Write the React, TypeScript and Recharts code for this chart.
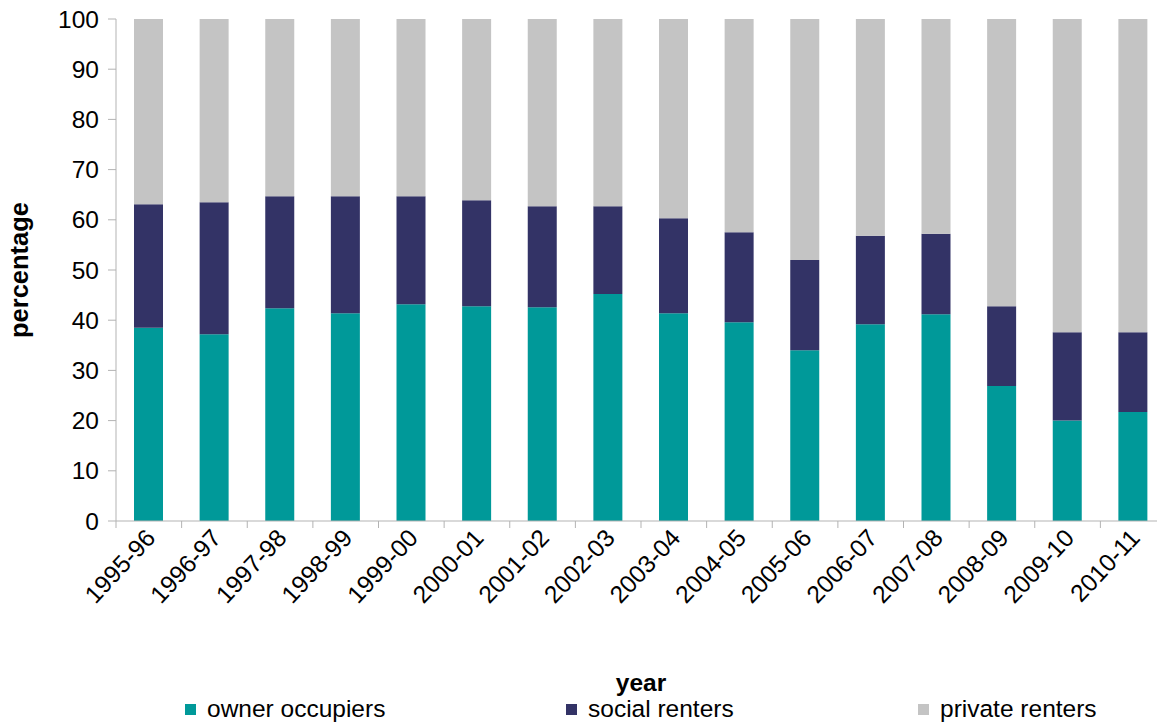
import React from "react";
import { BarChart, Bar, XAxis, YAxis } from "recharts";

// values (percent of households)
const years = [
    "1995-96", "1996-97", "1997-98", "1998-99", "1999-00", "2000-01", "2001-02", "2002-03",
    "2003-04", "2004-05", "2005-06", "2006-07", "2007-08", "2008-09", "2009-10", "2010-11",
];
const ownerOccupiers = [38.5, 37.2, 42.4, 41.4, 43.2, 42.8, 42.6, 45.2, 41.4, 39.6, 34.0, 39.2, 41.2, 26.9, 20.0, 21.7];
const socialRenters = [24.6, 26.3, 22.3, 23.3, 21.5, 21.1, 20.1, 17.5, 18.9, 17.9, 18.0, 17.6, 16.0, 15.9, 17.6, 15.9];
const privateRenters = [36.9, 36.5, 35.3, 35.3, 35.3, 36.1, 37.3, 37.3, 39.7, 42.5, 48.0, 43.2, 42.8, 57.2, 62.4, 62.4];
const yTicks = [0, 10, 20, 30, 40, 50, 60, 70, 80, 90, 100];

const series = [
    { key: "owner", name: "owner occupiers", color: "#009999" },
    { key: "social", name: "social renters", color: "#333366" },
    { key: "private", name: "private renters", color: "#C4C4C4" },
];

const data = years.map((year, i) => ({
    year,
    owner: ownerOccupiers[i],
    social: socialRenters[i],
    private: privateRenters[i],
}));

const W = 1170;
const H = 722;
const LEFT = 116;
const RIGHT = 4;
const TOP = 19;
const PLOT_BOTTOM = 521;
const AXIS_COLOR = "#B3B3B3";
const FONT = "'Liberation Sans', Arial, sans-serif";
const FS = 24.5;
const BAND = (W - LEFT - RIGHT) / years.length;

function YearTick(props: any) {
    const { x, y, payload } = props;
    const edge = x - BAND / 2;
    const ax = x + 8;
    const ay = y + 18;
    return (
        <g>
            <line x1={edge} y1={y} x2={edge} y2={y + 7} stroke={AXIS_COLOR} />
            <text
                x={ax}
                y={ay}
                transform={`rotate(-47, ${ax}, ${ay})`}
                textAnchor="end"
                fontSize={FS}
                fontFamily={FONT}
                fill="#000"
            >
                {payload.value}
            </text>
        </g>
    );
}

function PercentLabel() {
    const cx = 28;
    const cy = (TOP + PLOT_BOTTOM) / 2;
    return (
        <text
            x={cx}
            y={cy}
            transform={`rotate(-90, ${cx}, ${cy})`}
            textAnchor="middle"
            fontSize={25.5}
            fontWeight="bold"
            fontFamily={FONT}
            fill="#000"
        >
            percentage
        </text>
    );
}

export default function App() {
    return (
        <div style={{ position: "absolute", left: 0, top: 0, width: 1157, height: H, overflow: "hidden", background: "#fff" }}>
            <BarChart
                width={W}
                height={H}
                data={data}
                margin={{ top: TOP, right: RIGHT, left: 0, bottom: 0 }}
                barSize={29}
            >
                <XAxis
                    dataKey="year"
                    interval={0}
                    height={H - PLOT_BOTTOM}
                    tickLine={false}
                    tickSize={0}
                    tickMargin={0}
                    axisLine={{ stroke: AXIS_COLOR }}
                    tick={<YearTick />}
                    label={{
                        value: "year",
                        position: "insideBottom",
                        offset: 31,
                        fontSize: FS,
                        fontWeight: "bold",
                        fontFamily: FONT,
                        fill: "#000",
                    }}
                />
                <YAxis
                    width={LEFT}
                    domain={[0, 100]}
                    ticks={yTicks}
                    interval={0}
                    tickSize={8}
                    tickMargin={9}
                    tickLine={{ stroke: AXIS_COLOR }}
                    axisLine={{ stroke: AXIS_COLOR }}
                    tick={{ fill: "#000", fontSize: FS, fontFamily: FONT }}
                    label={<PercentLabel />}
                />
                {series.map((s) => (
                    <Bar key={s.key} dataKey={s.key} name={s.name} stackId="a" fill={s.color} isAnimationActive={false} />
                ))}
            </BarChart>
            {/* legend */}
            {series.map((s, i) => (
                <div
                    key={s.key}
                    style={{
                        position: "absolute",
                        left: [185, 566, 918][i],
                        top: 695,
                        display: "flex",
                        alignItems: "center",
                        fontFamily: FONT,
                        fontSize: FS,
                        color: "#000",
                        whiteSpace: "nowrap",
                    }}
                >
                    <span style={{ display: "inline-block", width: 11, height: 11, background: s.color, marginRight: 11 }} />
                    {s.name}
                </div>
            ))}
        </div>
    );
}
